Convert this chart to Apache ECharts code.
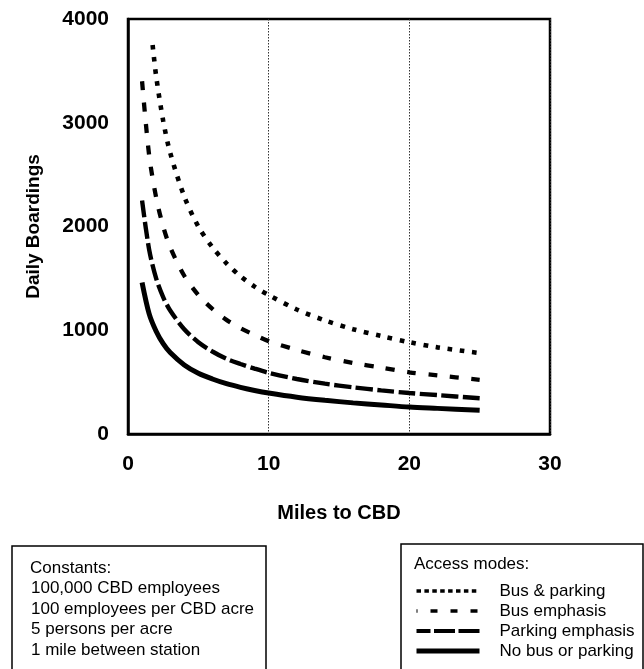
<!DOCTYPE html>
<html>
<head>
<meta charset="utf-8">
<script src="https://cdn.jsdelivr.net/npm/echarts@6/dist/echarts.min.js"></script>
<style>
html,body{margin:0;padding:0;background:#ffffff;}
#chart{width:644px;height:669px;}
</style>
</head>
<body>
<div id="chart"></div>
<script>
// ---- Data ----
const miles = [1, 1.5, 2, 2.5, 3, 4, 5, 6, 7, 8, 9, 10, 12, 14, 16, 18, 20, 22, 25];
const milesBusParking = [1.75, 2, 2.5, 3, 4, 5, 6, 7, 8, 9, 10, 12, 14, 16, 18, 20, 22, 25];
const busParking = [3750, 3450, 3020, 2710, 2290, 2000, 1800, 1645, 1520, 1420, 1340, 1200, 1095, 1010, 945, 885, 835, 780];
const busEmphasis = [3400, 2690, 2280, 2000, 1800, 1525, 1340, 1205, 1100, 1020, 955, 895, 810, 740, 685, 640, 595, 565, 522];
const parkingEmphasis = [2250, 1780, 1500, 1320, 1190, 1010, 885, 795, 725, 675, 630, 590, 530, 485, 450, 420, 395, 375, 345];
const noBusParking = [1460, 1160, 990, 870, 785, 665, 585, 530, 485, 450, 420, 395, 355, 325, 300, 280, 260, 247, 228];
const seriesNames = ['Bus & parking', 'Bus emphasis', 'Parking emphasis', 'No bus or parking'];
const xRange = [0, 30, 10];      // min, max, interval
const yRange = [0, 4000, 1000];  // min, max, interval
const xTitle = 'Miles to CBD';
const yTitle = 'Daily Boardings';
const constantsTitle = 'Constants:';
const constantsLines = ['100,000 CBD employees', '100 employees per CBD acre', '5 persons per acre', '1 mile between station'];
const legendTitle = 'Access modes:';

// ---- Build ----
const FONT = '"Liberation Sans", Arial, Helvetica, sans-serif';
function pairs(xs, ys) { return xs.map((x, i) => [x, ys[i]]); }

const chart = echarts.init(document.getElementById('chart'), null, {renderer: 'canvas'});

const lineBase = {
  type: 'line', symbol: 'none', showSymbol: false, smooth: 0.3,
  animation: false, z: 3
};

const constGraphics = [
  {type: 'rect', shape: {x: 12, y: 546, width: 254, height: 140},
   style: {fill: '#fff', stroke: '#000', lineWidth: 1.5}},
  {type: 'text', style: {x: 30, y: 568, text: constantsTitle, font: '17px ' + FONT, fill: '#000', verticalAlign: 'middle'}}
];
const constYs = [588, 609, 629, 650];
constantsLines.forEach((t, i) => {
  constGraphics.push({type: 'text', style: {x: 31, y: constYs[i], text: t, font: '17px ' + FONT, fill: '#000', verticalAlign: 'middle'}});
});
constGraphics.push({type: 'rect', shape: {x: 401, y: 544, width: 242, height: 140},
  style: {fill: '#fff', stroke: '#000', lineWidth: 1.5}});
constGraphics.push({type: 'text', style: {x: 414, y: 564, text: legendTitle, font: '17px ' + FONT, fill: '#000', verticalAlign: 'middle'}});

const option = {
  backgroundColor: '#ffffff',
  animation: false,
  grid: {left: 128, right: 94, top: 19, bottom: 235, show: true, borderColor: '#000', borderWidth: 2.5, containLabel: false},
  xAxis: {
    type: 'value', min: xRange[0], max: xRange[1], interval: xRange[2],
    name: xTitle, nameLocation: 'middle', nameGap: 69,
    nameTextStyle: {fontFamily: FONT, fontWeight: 'bold', fontSize: 20, color: '#000'},
    axisLine: {show: true, lineStyle: {color: '#000', width: 2.5}},
    axisTick: {show: false},
    axisLabel: {margin: 20, fontFamily: FONT, fontWeight: 'bold', fontSize: 21, color: '#000'},
    splitLine: {show: true, lineStyle: {color: '#333', width: 1, type: [1.5, 1.5]}}
  },
  yAxis: {
    type: 'value', min: yRange[0], max: yRange[1], interval: yRange[2],
    name: yTitle, nameLocation: 'middle', nameGap: 85,
    nameTextStyle: {fontFamily: FONT, fontWeight: 'bold', fontSize: 19, color: '#000'},
    axisLine: {show: true, lineStyle: {color: '#000', width: 2.5}},
    axisTick: {show: false},
    axisLabel: {margin: 19, fontFamily: FONT, fontWeight: 'bold', fontSize: 21, color: '#000',
      formatter: function (v) { return String(v); }},
    splitLine: {show: false}
  },
  legend: {
    orient: 'vertical', left: 414, top: 581, height: 88, padding: 0,
    itemWidth: 63, itemHeight: 14, itemGap: 0,
    itemStyle: {opacity: 0},
    textStyle: {fontFamily: FONT, fontSize: 17, color: '#000', lineHeight: 20, padding: [0, 0, 0, 15]},
    data: [
      {name: seriesNames[0], lineStyle: {type: [4.5, 3.4], width: 3.5, color: '#000'}},
      {name: seriesNames[1], lineStyle: {type: [7, 13], dashOffset: 6, width: 3.5, color: '#000'}},
      {name: seriesNames[2], lineStyle: {type: [21, 3.5], dashOffset: 7, width: 4.2, color: '#000'}},
      {name: seriesNames[3], lineStyle: {type: 'solid', width: 5, color: '#000'}}
    ],
    z: 10
  },
  graphic: {elements: constGraphics},
  series: [
    Object.assign({}, lineBase, {name: seriesNames[0], data: pairs(milesBusParking, busParking),
      lineStyle: {color: '#000', width: 4.6, type: [4.6, 7.6], cap: 'butt'}, itemStyle: {color: '#000'}}),
    Object.assign({}, lineBase, {name: seriesNames[1], data: pairs(miles, busEmphasis),
      lineStyle: {color: '#000', width: 4.3, type: [9, 12.5], cap: 'butt'}, itemStyle: {color: '#000'}}),
    Object.assign({}, lineBase, {name: seriesNames[2], data: pairs(miles, parkingEmphasis),
      lineStyle: {color: '#000', width: 4.4, type: [17, 4.5], cap: 'butt'}, itemStyle: {color: '#000'}}),
    Object.assign({}, lineBase, {name: seriesNames[3], data: pairs(miles, noBusParking),
      lineStyle: {color: '#000', width: 5, type: 'solid', cap: 'butt'}, itemStyle: {color: '#000'}})
  ]
};
chart.setOption(option);
</script>
</body>
</html>
